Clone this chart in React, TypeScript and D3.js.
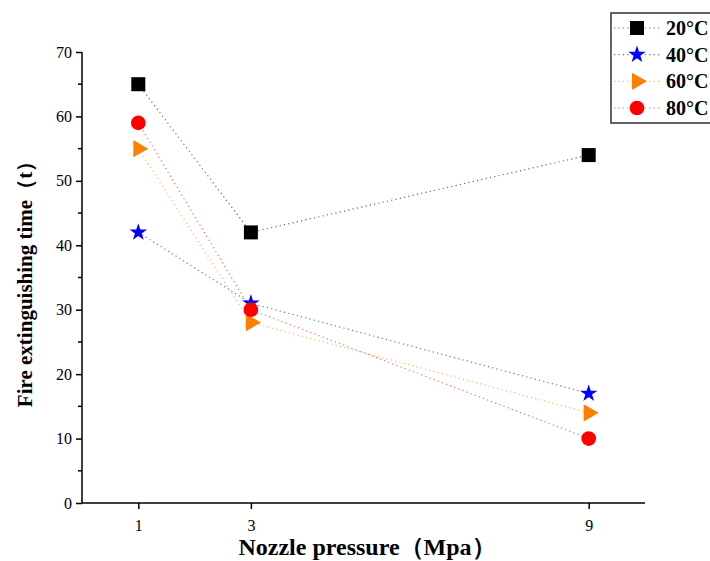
import { useRef, useEffect } from 'react';
import * as d3 from 'd3';

const pressures = [1, 3, 9];
const seriesNames = ['20°C', '40°C', '60°C', '80°C'];
const t20 = [65, 42, 54];
const t40 = [42, 31, 17];
const t60 = [55, 28, 14];
const t80 = [59, 30, 10];
const yTicks = [0, 10, 20, 30, 40, 50, 60, 70];
const yMinorTicks = [5, 15, 25, 35, 45, 55, 65];

const colors = ['#000000', '#0000ff', '#ff8000', '#ff0000'];
const symbols = ['square', 'star', 'triangle', 'circle'];

const x = d3.scaleLinear().domain([0, 10]).range([82, 645]);
const y = d3.scaleLinear().domain([0, 70]).range([503, 52]);

const symType: Record<string, any> = {
  square: d3.symbolSquare,
  star: d3.symbolStar,
  triangle: d3.symbolTriangle,
  circle: d3.symbolCircle,
};
const symSize: Record<string, number> = { square: 196, star: 95, triangle: 130, circle: 170 };
const symRotate: Record<string, number> = { square: 0, star: 0, triangle: 90, circle: 0 };
const symPath = (name: string) => d3.symbol().type(symType[name]).size(symSize[name])() as string;

function App() {
  const xAxisRef = useRef<SVGGElement>(null);
  const yAxisRef = useRef<SVGGElement>(null);

  const data = [t20, t40, t60, t80].map((vals, i) => ({
    name: seriesNames[i],
    color: colors[i],
    symbol: symbols[i],
    points: vals.map((v, j) => ({ p: pressures[j], v })),
  }));
  const line = d3.line<{ p: number; v: number }>().x(d => x(d.p)).y(d => y(d.v));
  const rowY = d3.scalePoint<string>().domain(seriesNames).range([28, 108]);

  useEffect(() => {
    const yAxis = d3.select(yAxisRef.current!);
    yAxis.call(d3.axisLeft(y).tickValues(yTicks).tickSize(6).tickPadding(4).tickFormat(d3.format('d')) as any);
    yAxis.selectAll('.minor').remove();
    yAxis.append('g').attr('class', 'minor').selectAll('line').data(yMinorTicks).join('line')
      .attr('x1', 0).attr('x2', -4).attr('y1', d => y(d)).attr('y2', d => y(d))
      .attr('stroke', '#000').attr('stroke-width', 1.5);

    const xAxis = d3.select(xAxisRef.current!);
    xAxis.call(d3.axisBottom(x).tickValues(pressures).tickSize(6).tickPadding(11).tickFormat(d3.format('d')) as any);

    [yAxis, xAxis].forEach(g => {
      g.attr('font-family', null).attr('font-size', 16);
      g.selectAll('.tick line').attr('stroke-width', 1.5);
      g.selectAll('text').attr('fill', '#000');
    });
    yAxis.select('.domain').attr('stroke-width', 1.5).attr('d', `M0,${y(0)}V${y(70)}`);
    xAxis.select('.domain').attr('stroke-width', 1.5).attr('d', `M${x(0)},0H${x(10)}`);
  }, []);

  return (
    <svg width={710} height={561}
      style={{ position: 'absolute', left: 0, top: 0, background: '#fff', fontFamily: 'Liberation Serif' }}>
      <g ref={yAxisRef} transform={`translate(${x(0)},0)`} />
      <g ref={xAxisRef} transform={`translate(0,${y(0)})`} />

      <text transform="translate(32,279) rotate(-90)" textAnchor="middle" fontWeight="bold" fontSize={21}>
        Fire extinguishing time（t）
      </text>
      <text x={367} y={555} textAnchor="middle" fontWeight="bold" fontSize={24}>
        Nozzle pressure（Mpa）
      </text>

      {data.map(s => (
        <path key={'l' + s.name} d={line(s.points) as string} fill="none" stroke={s.color}
          strokeOpacity={0.6} strokeWidth={1.2} strokeDasharray="1.2,3.2" />
      ))}
      {data.map(s => (
        <g key={'m' + s.name}>
          {s.points.map(d => (
            <path key={d.p} d={symPath(s.symbol)} fill={s.color}
              transform={`translate(${x(d.p)},${y(d.v)}) rotate(${symRotate[s.symbol]})`} />
          ))}
        </g>
      ))}

      <g>
        <rect x={611} y={13} width={120} height={110} fill="none" stroke="#333" strokeWidth={1.5} />
        {data.map(s => {
          const yy = rowY(s.name)!;
          return (
            <g key={'g' + s.name}>
              <line x1={614} x2={662} y1={yy} y2={yy} stroke={s.color} strokeOpacity={0.6}
                strokeWidth={1.2} strokeDasharray="1.2,3.2" />
              <path d={symPath(s.symbol)} fill={s.color}
                transform={`translate(637,${yy}) rotate(${symRotate[s.symbol]})`} />
              <text x={666} y={yy + 7} fontWeight="bold" fontSize={20}>{s.name}</text>
            </g>
          );
        })}
      </g>
    </svg>
  );
}

export default App;
